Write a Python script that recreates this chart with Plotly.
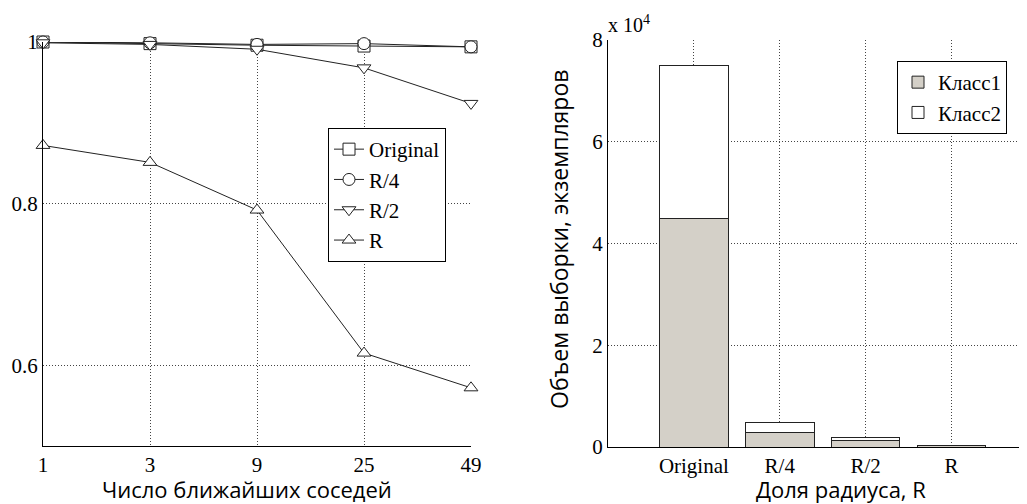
import plotly.graph_objects as go

# ---------- data ----------
k_labels = ["1", "3", "9", "25", "49"]
acc_original = [1.000, 0.998, 0.996, 0.995, 0.994]
acc_r4 = [1.000, 0.999, 0.997, 0.998, 0.994]
acc_r2 = [0.999, 0.997, 0.991, 0.968, 0.924]
acc_r = [0.872, 0.851, 0.792, 0.615, 0.572]
series_names = ["Original", "R/4", "R/2", "R"]

bar_cats = ["Original", "R/4", "R/2", "R"]
class1 = [45000, 2900, 1300, 200]
class2 = [30000, 1950, 660, 100]

# the page has an 8px body margin; figure occupies the rest of the window
OFF = 8
W, H = 1027 - OFF, 504 - OFF
def px(x): return (x - OFF) / W
def py(y): return (H - (y - OFF)) / H

SERIF = "Liberation Serif"
SANS = "Open Sans"
GRID = "#444444"

fig = go.Figure()

xs = list(range(len(k_labels)))
symbols = ["square", "circle", "triangle-down", "triangle-up"]
for name, vals, sym in zip(series_names, [acc_original, acc_r4, acc_r2, acc_r], symbols):
    fig.add_trace(go.Scatter(
        x=xs, y=vals, name=name, mode="lines+markers",
        line=dict(color="#222222", width=1),
        marker=dict(symbol=sym, size=12, color="white", line=dict(color="#222222", width=1)),
        cliponaxis=False, xaxis="x", yaxis="y", legend="legend",
    ))

fig.add_trace(go.Bar(
    x=list(range(len(bar_cats))), y=class1, name="Класс1", width=0.8,
    marker=dict(color="#d4d0c8", line=dict(color="#222222", width=1)),
    xaxis="x2", yaxis="y2", legend="legend2",
))
fig.add_trace(go.Bar(
    x=list(range(len(bar_cats))), y=class2, name="Класс2", width=0.8,
    marker=dict(color="white", line=dict(color="#222222", width=1)),
    xaxis="x2", yaxis="y2", legend="legend2",
))

axis_common = dict(
    showline=True, linecolor="black", linewidth=1, mirror=False,
    showgrid=True, gridcolor=GRID, griddash="1px,2px", gridwidth=1,
    zeroline=False, ticks="", automargin=False,
    tickfont=dict(family=SERIF, size=21, color="black"),
)

fig.update_layout(
    width=W, height=H,
    margin=dict(l=0, r=0, t=0, b=0, autoexpand=False),
    paper_bgcolor="white", plot_bgcolor="white",
    barmode="stack",
    showlegend=True,
    font=dict(family=SERIF, color="black"),
    xaxis=dict(axis_common, domain=[px(43), px(471)], range=[0, 4],
               tickvals=xs, ticktext=k_labels, anchor="y"),
    yaxis=dict(axis_common, domain=[py(446), py(42)], range=[0.5, 1],
               tickvals=[0.6, 0.8, 1.0], ticktext=["0.6", "0.8", "1"], anchor="x"),
    xaxis2=dict(axis_common, domain=[px(608), 1.0], range=[-1, 3.88],
                tickvals=list(range(len(bar_cats))), ticktext=bar_cats, anchor="y2"),
    yaxis2=dict(axis_common, domain=[py(447), py(40)], range=[0, 80000],
                tickvals=[0, 20000, 40000, 60000, 80000], ticktext=["0", "2", "4", "6", "8"],
                anchor="x2"),
    legend=dict(x=px(328), y=py(128), xanchor="left", yanchor="top",
                bgcolor="white", bordercolor="black", borderwidth=1,
                font=dict(family=SERIF, size=21, color="black"),
                tracegroupgap=0, itemwidth=30),
    legend2=dict(x=px(897), y=py(61), xanchor="left", yanchor="top",
                 bgcolor="white", bordercolor="black", borderwidth=1,
                 font=dict(family=SERIF, size=21, color="black"),
                 traceorder="normal", itemwidth=30),
    annotations=[
        dict(text="Число ближайших соседей", x=px(247), y=py(489), xref="paper", yref="paper",
             showarrow=False, xanchor="center", yanchor="middle",
             font=dict(family=SANS, size=22, color="black")),
        dict(text="Доля радиуса, R", x=px(841), y=py(489), xref="paper", yref="paper",
             showarrow=False, xanchor="center", yanchor="middle",
             font=dict(family=SANS, size=22, color="black")),
        dict(text="Объем выборки, экземпляров", x=px(559), y=py(240), xref="paper", yref="paper",
             showarrow=False, xanchor="center", yanchor="middle", textangle=-90,
             font=dict(family=SANS, size=23, color="black")),
        dict(text="x 10<sup>4</sup>", x=px(606), y=py(24), xref="paper", yref="paper",
             showarrow=False, xanchor="left", yanchor="middle",
             font=dict(family=SERIF, size=20, color="black")),
    ],
)

fig.write_html("out.html")
